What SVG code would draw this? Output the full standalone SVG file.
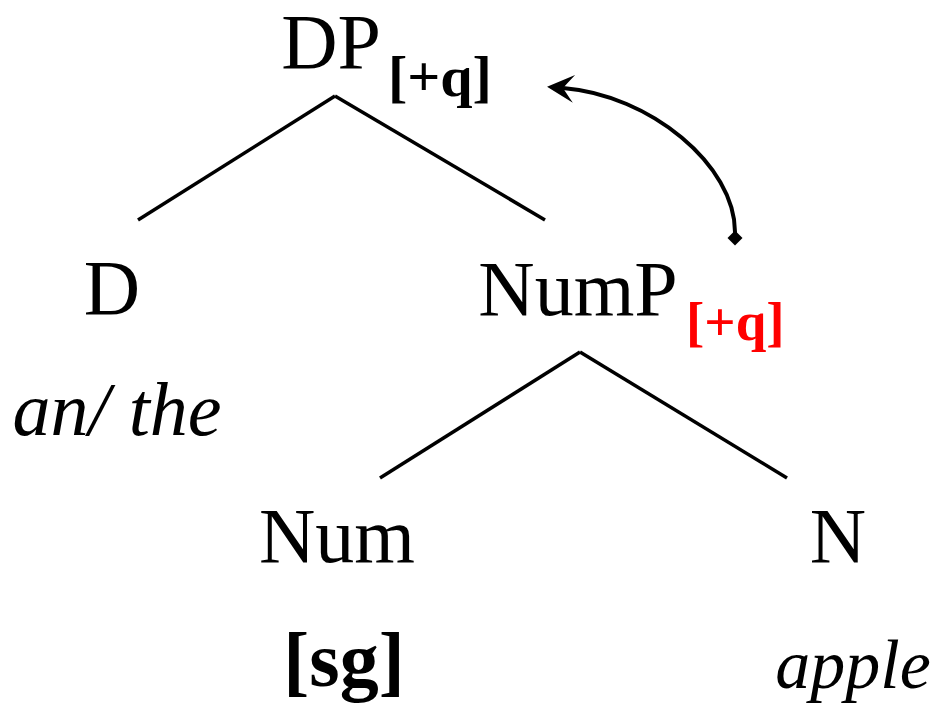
<svg xmlns="http://www.w3.org/2000/svg" width="936" height="708" viewBox="0 0 936 708">
  <style>
    .lbl { font-family: "Liberation Serif", "Times New Roman", serif; font-size: 78px; fill: #000; text-anchor: middle; }
    .sub { font-family: "Liberation Serif", "Times New Roman", serif; font-weight: bold; fill: #000; }
    .red { fill: #ff0000; }
    .it { font-family: "Liberation Serif", "Times New Roman", serif; font-style: italic; fill: #000; text-anchor: middle; }
    .bold { font-family: "Liberation Serif", "Times New Roman", serif; font-weight: bold; font-size: 78px; fill: #000; text-anchor: middle; }
    .edge { stroke: #000; stroke-width: 3.5; fill: none; stroke-linecap: butt; }
    .move { stroke: #000; stroke-width: 4; fill: none; }
  </style>
  <defs>
    <marker id="head" markerUnits="userSpaceOnUse" viewBox="-14 -17 34 34" markerWidth="34" markerHeight="34" refX="0" refY="0" orient="auto">
      <path d="M16,0 L-11,-14 Q-3,-4 0,0 Q-3,4 -11,14 Z" fill="#000"/>
    </marker>
    <marker id="diamond" markerUnits="userSpaceOnUse" viewBox="-9 -9 18 18" markerWidth="18" markerHeight="18" refX="0" refY="0" orient="auto">
      <path d="M-7.5,0 L0,-7.5 L7.5,0 L0,7.5 Z" fill="#000"/>
    </marker>
  </defs>
  <rect width="936" height="708" fill="#fff"/>

  <g id="connectors">
    <line class="edge" x1="335" y1="96" x2="138" y2="220"/>
    <line class="edge" x1="335" y1="96" x2="545" y2="220"/>
    <line class="edge" x1="580" y1="352" x2="380" y2="478"/>
    <line class="edge" x1="580" y1="352" x2="787" y2="478"/>
    <path class="move" d="M735,238 L735,232 C735,165 650,95 563,88" marker-start="url(#diamond)" marker-end="url(#head)"/>
  </g>

  <g id="node-DP">
    <text class="lbl" x="331" y="68" font-size="76">DP</text>
    <text class="sub" x="388" y="96" font-size="58">[+q]</text>
  </g>
  <g id="node-D">
    <text class="lbl" x="112" y="314">D</text>
  </g>
  <g id="node-D-word">
    <text class="it" x="117" y="435" font-size="76">an/ the</text>
  </g>
  <g id="node-NumP">
    <text class="lbl" x="578" y="315">NumP</text>
    <text class="sub red" x="686" y="340" font-size="55">[+q]</text>
  </g>
  <g id="node-Num">
    <text class="lbl" x="337" y="562">Num</text>
  </g>
  <g id="node-Num-feat">
    <text class="bold" x="344" y="686">[sg]</text>
  </g>
  <g id="node-N">
    <text class="lbl" x="838" y="562">N</text>
  </g>
  <g id="node-N-word">
    <text class="it" x="853" y="688" font-size="70">apple</text>
  </g>
</svg>
